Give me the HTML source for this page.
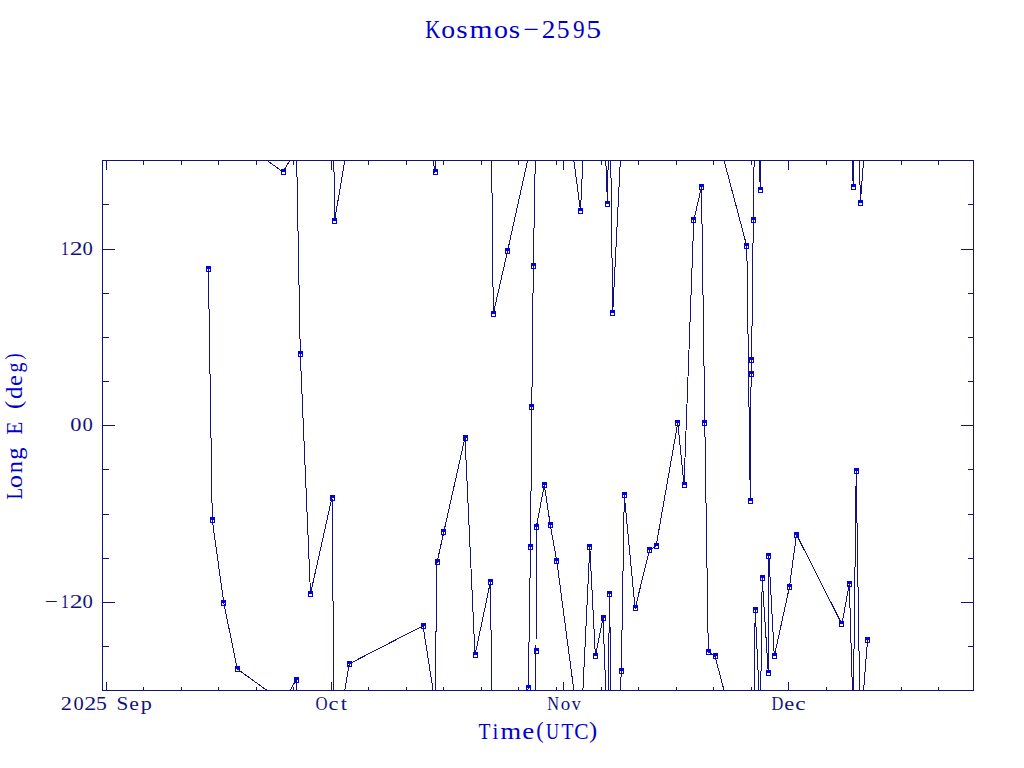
<!DOCTYPE html>
<html><head><meta charset="utf-8"><style>
html,body{margin:0;padding:0;background:#fff;width:1024px;height:768px;overflow:hidden}
svg{display:block}
text{font-family:"Liberation Serif",serif}
</style></head><body>
<svg width="1024" height="768" viewBox="0 0 1024 768">
<defs><clipPath id="c"><rect x="102" y="160" width="872" height="531"/></clipPath></defs>
<rect x="102.5" y="160.5" width="871" height="530" fill="none" stroke="#12127a" stroke-width="1" shape-rendering="crispEdges"/>
<path d="M143.5,160 V165 M143.5,691 V687 M181.5,160 V165 M181.5,691 V687 M218.5,160 V165 M218.5,691 V687 M256.5,160 V165 M256.5,691 V687 M293.5,160 V165 M293.5,691 V687 M368.5,160 V165 M368.5,691 V687 M406.5,160 V165 M406.5,691 V687 M443.5,160 V165 M443.5,691 V687 M481.5,160 V165 M481.5,691 V687 M518.5,160 V165 M518.5,691 V687 M556.5,160 V165 M556.5,691 V687 M601.5,160 V165 M601.5,691 V687 M638.5,160 V165 M638.5,691 V687 M676.5,160 V165 M676.5,691 V687 M713.5,160 V165 M713.5,691 V687 M751.5,160 V165 M751.5,691 V687 M826.5,160 V165 M826.5,691 V687 M863.5,160 V165 M863.5,691 V687 M901.5,160 V165 M901.5,691 V687 M938.5,160 V165 M938.5,691 V687 M106.5,160 V170 M106.5,691 V682 M331.5,160 V170 M331.5,691 V682 M563.5,160 V170 M563.5,691 V682 M788.5,160 V170 M788.5,691 V682 M102,204.5 H109 M974,204.5 H968 M102,293.5 H109 M974,293.5 H968 M102,337.5 H109 M974,337.5 H968 M102,381.5 H109 M974,381.5 H968 M102,469.5 H109 M974,469.5 H968 M102,514.5 H109 M974,514.5 H968 M102,558.5 H109 M974,558.5 H968 M102,646.5 H109 M974,646.5 H968 M102,249.5 H115 M974,249.5 H961 M102,425.5 H115 M974,425.5 H961 M102,602.5 H115 M974,602.5 H961" stroke="#12127a" stroke-width="1" fill="none" shape-rendering="crispEdges"/>
<g clip-path="url(#c)">
<path d="M208.4,268.8 L212.3,520.3 L223.8,603 L237.3,669 L283,702 M237.3,139 L283,172 L296.5,149.5 M283,702 L296.5,679.5 L300.3,884 M296.5,149.5 L300.3,354 L310.5,593.8 L332,497.5 L334.5,751.3 M332,-32.5 L334.5,221.3 L349.3,133.8 M334.5,751.3 L349.3,663.8 L423,625.8 L435,702.5 M423,95.8 L435,172.5 L437,32.5 M435,702.5 L437,562.5 L443.8,532 L465,437.5 L475,655.3 L490.5,581.5 L493.3,843.8 M490.5,51.5 L493.3,313.8 L507.5,251.3 L528.3,157.5 M507.5,781.3 L528.3,687.5 L530.5,547 L531.8,406.8 L533.3,266.3 L536,121 M533.3,796.3 L536,651 L536.3,527.3 L544.3,485 L550.3,525 L556.8,561 L580.5,740.8 M556.8,31 L580.5,210.8 L589.8,17 M580.5,740.8 L589.8,547 L595.4,656 L603,618 L607.5,734.3 M603,88 L607.5,204.3 L609.6,64.4 M607.5,734.3 L609.6,594.4 L612.7,843 M609.6,64.4 L612.7,313 L621.3,141.3 M612.7,843 L621.3,671.3 L624.3,495.4 L635.1,608.5 L649.4,550.3 L656.1,546 L677.8,422.8 L684,485 L693.8,220.4 L701.5,186.8 L704.8,422.8 L708.3,651.8 L715,656.3 L746.8,776.2 M715,126.3 L746.8,246.2 L750.3,500.6 L751.1,374.3 L751.6,360.5 L753.3,220.4 L755.2,80 M753.3,750.4 L755.2,610 L760.4,720 M755.2,80 L760.4,190 L762.2,48.4 M760.4,720 L762.2,578.4 L768.3,672.9 L768.9,555.8 L774.3,656.2 L789.4,587.2 L796.5,534.6 L841.9,624.1 L849.3,584 L853.2,716.8 M849.3,54 L853.2,186.8 L856.2,-59.1 M853.2,716.8 L856.2,470.9 L860.3,733.2 M856.2,-59.1 L860.3,203.2 L867.5,110.3 M860.3,733.2 L867.5,640.3" stroke="#12127a" stroke-width="1" fill="none" shape-rendering="crispEdges"/>
<path d="M206,266h5v6h-5z M207,269h3v2h-3z M210,517h5v6h-5z M211,520h3v2h-3z M221,600h5v6h-5z M222,603h3v2h-3z M235,666h5v6h-5z M236,669h3v2h-3z M281,169h5v6h-5z M282,172h3v2h-3z M294,677h5v6h-5z M295,680h3v2h-3z M298,351h5v6h-5z M299,354h3v2h-3z M308,591h5v6h-5z M309,594h3v2h-3z M330,495h5v6h-5z M331,498h3v2h-3z M332,218h5v6h-5z M333,221h3v2h-3z M347,661h5v6h-5z M348,664h3v2h-3z M421,623h5v6h-5z M422,626h3v2h-3z M433,169h5v6h-5z M434,172h3v2h-3z M435,559h5v6h-5z M436,562h3v2h-3z M441,529h5v6h-5z M442,532h3v2h-3z M463,435h5v6h-5z M464,438h3v2h-3z M473,652h5v6h-5z M474,655h3v2h-3z M488,579h5v6h-5z M489,582h3v2h-3z M491,311h5v6h-5z M492,314h3v2h-3z M505,248h5v6h-5z M506,251h3v2h-3z M526,685h5v6h-5z M527,688h3v2h-3z M528,544h5v6h-5z M529,547h3v2h-3z M529,404h5v6h-5z M530,407h3v2h-3z M531,263h5v6h-5z M532,266h3v2h-3z M534,648h5v6h-5z M535,651h3v2h-3z M534,524h5v6h-5z M535,527h3v2h-3z M542,482h5v6h-5z M543,485h3v2h-3z M548,522h5v6h-5z M549,525h3v2h-3z M554,558h5v6h-5z M555,561h3v2h-3z M578,208h5v6h-5z M579,211h3v2h-3z M587,544h5v6h-5z M588,547h3v2h-3z M593,653h5v6h-5z M594,656h3v2h-3z M601,615h5v6h-5z M602,618h3v2h-3z M605,201h5v6h-5z M606,204h3v2h-3z M607,591h5v6h-5z M608,594h3v2h-3z M610,310h5v6h-5z M611,313h3v2h-3z M619,668h5v6h-5z M620,671h3v2h-3z M622,492h5v6h-5z M623,495h3v2h-3z M633,605h5v6h-5z M634,608h3v2h-3z M647,547h5v6h-5z M648,550h3v2h-3z M654,543h5v6h-5z M655,546h3v2h-3z M675,420h5v6h-5z M676,423h3v2h-3z M682,482h5v6h-5z M683,485h3v2h-3z M691,217h5v6h-5z M692,220h3v2h-3z M699,184h5v6h-5z M700,187h3v2h-3z M702,420h5v6h-5z M703,423h3v2h-3z M706,649h5v6h-5z M707,652h3v2h-3z M713,653h5v6h-5z M714,656h3v2h-3z M744,243h5v6h-5z M745,246h3v2h-3z M748,498h5v6h-5z M749,501h3v2h-3z M749,371h5v6h-5z M750,374h3v2h-3z M749,357h5v6h-5z M750,360h3v2h-3z M751,217h5v6h-5z M752,220h3v2h-3z M753,607h5v6h-5z M754,610h3v2h-3z M758,187h5v6h-5z M759,190h3v2h-3z M760,575h5v6h-5z M761,578h3v2h-3z M766,670h5v6h-5z M767,673h3v2h-3z M766,553h5v6h-5z M767,556h3v2h-3z M772,653h5v6h-5z M773,656h3v2h-3z M787,584h5v6h-5z M788,587h3v2h-3z M794,532h5v6h-5z M795,535h3v2h-3z M839,621h5v6h-5z M840,624h3v2h-3z M847,581h5v6h-5z M848,584h3v2h-3z M851,184h5v6h-5z M852,187h3v2h-3z M854,468h5v6h-5z M855,471h3v2h-3z M858,200h5v6h-5z M859,203h3v2h-3z M865,637h5v6h-5z M866,640h3v2h-3z" fill="#0000e0" fill-rule="evenodd" shape-rendering="crispEdges"/>
</g>
<g fill="#12127a" font-size="19.5">
<text transform="translate(60.82,710) scale(1.14,1)">2</text>
<text transform="translate(73.42,710) scale(1.05,1)">0</text>
<text transform="translate(84.15,710) scale(1.23,1)">2</text>
<text transform="translate(96.05,710) scale(1.11,1)">5</text>
<text transform="translate(116.47,710) scale(1.09,1)">S</text>
<text transform="translate(129.16,710) scale(1.11,1)">e</text>
<text transform="translate(140.64,710) scale(1.14,1)">p</text>
<text transform="translate(315.41,710) scale(0.86,1)">O</text>
<text transform="translate(328.44,710) scale(1.16,1)">c</text>
<text transform="translate(340.77,710) scale(1.15,1)">t</text>
<text transform="translate(547.32,710) scale(0.84,1)">N</text>
<text transform="translate(560.78,710) scale(0.97,1)">o</text>
<text transform="translate(571.7,710) scale(0.93,1)">v</text>
<text transform="translate(771.62,710) scale(0.84,1)">D</text>
<text transform="translate(784.33,710) scale(1.15,1)">e</text>
<text transform="translate(795.31,710) scale(1.2,1)">c</text>
<text transform="translate(60.92,255) scale(0.8,1)">1</text>
<text transform="translate(69.87,255) scale(1.32,1)">2</text>
<text transform="translate(82.51,255) scale(1.06,1)">0</text>
<text transform="translate(70.15,431) scale(1.15,1)">0</text>
<text transform="translate(82.51,431) scale(1.06,1)">0</text>
<text transform="translate(44.84,608) scale(1.19,1)">&#8722;</text>
<text transform="translate(60.92,608) scale(0.8,1)">1</text>
<text transform="translate(69.87,608) scale(1.32,1)">2</text>
<text transform="translate(82.51,608) scale(1.06,1)">0</text>
</g>
<g fill="#0000cc" font-size="25.9">
<text transform="translate(425.3,38) scale(0.8,1)">K</text>
<text transform="translate(441.14,38) scale(1.07,1)">o</text>
<text transform="translate(456.3,38) scale(1.13,1)">s</text>
<text transform="translate(469.38,38) scale(1.14,1)">m</text>
<text transform="translate(493.93,38) scale(1.08,1)">o</text>
<text transform="translate(508.8,38) scale(1.13,1)">s</text>
<text transform="translate(523.61,38) scale(1.07,1)">&#8722;</text>
<text transform="translate(541.8,38) scale(1.05,1)">2</text>
<text transform="translate(556.72,38) scale(0.99,1)">5</text>
<text transform="translate(573.05,38) scale(0.9,1)">9</text>
<text transform="translate(586.37,38) scale(1.15,1)">5</text>
</g>
<g fill="#0000cc" font-size="24.1">
<text transform="translate(478.45,739) scale(0.81,1)">T</text>
<text transform="translate(492.46,739) scale(0.87,1)">i</text>
<text transform="translate(500.44,739) scale(1.1,1)">m</text>
<text transform="translate(522.15,739) scale(1.12,1)">e</text>
<text transform="translate(536.32,737.6) scale(0.92,0.97)">(</text>
<text transform="translate(545.92,739) scale(0.75,1)">U</text>
<text transform="translate(561.55,739) scale(0.81,1)">T</text>
<text transform="translate(574.32,739) scale(0.89,1)">C</text>
<text transform="translate(589.02,737.6) scale(1.02,0.97)">)</text>
<text transform="translate(22,499.45) rotate(-90) scale(0.79,1)">L</text>
<text transform="translate(22,488.21) rotate(-90) scale(1.11,1)">o</text>
<text transform="translate(22,473.16) rotate(-90) scale(1.01,1)">n</text>
<text transform="translate(22,459.66) rotate(-90) scale(1.02,1)">g</text>
<text transform="translate(22,434.41) rotate(-90) scale(0.87,1)">E</text>
<text transform="translate(20.7,409.1) rotate(-90) scale(1.03,0.99)">(</text>
<text transform="translate(22,398.99) rotate(-90) scale(1.03,1)">d</text>
<text transform="translate(22,385.95) rotate(-90) scale(1.01,1)">e</text>
<text transform="translate(22,372.56) rotate(-90) scale(0.83,1)">g</text>
<text transform="translate(20.7,359.39) rotate(-90) scale(0.76,0.99)">)</text>
</g>
</svg>
</body></html>
